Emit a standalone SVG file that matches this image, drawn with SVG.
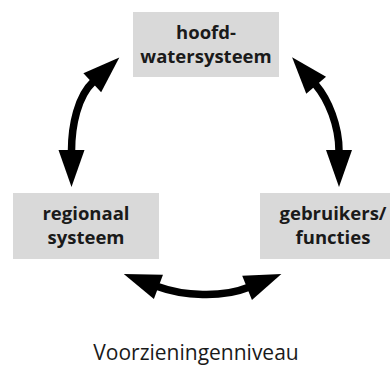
<svg xmlns="http://www.w3.org/2000/svg" width="390" height="366" viewBox="0 0 390 366">
<style>
.box{fill:#d9d9d9}
.lbl{font-family:"Open Sans","Noto Sans",sans-serif;font-weight:bold;font-size:18.5px;fill:#1a1a1a;text-anchor:middle}
.cap{font-family:"Open Sans","Noto Sans",sans-serif;font-size:21px;fill:#1a1a1a;text-anchor:middle}
.arr{fill:none;stroke:#000;stroke-width:7.5;marker-start:url(#ah);marker-end:url(#ah)}
</style>
<defs>
<marker id="ah" markerUnits="userSpaceOnUse" markerWidth="40" markerHeight="30" refX="0" refY="13" orient="auto-start-reverse" viewBox="0 0 40 30" overflow="visible">
<path d="M-1,0 L36,13 L-1,26 z" fill="#000"/>
</marker>
</defs>
<rect width="390" height="366" fill="#fff"/>
<g id="node-hoofdwatersysteem">
<rect class="box" x="133" y="12" width="146" height="65"/>
<text class="lbl" x="206" y="39">hoofd-</text>
<text class="lbl" x="206" y="63">watersysteem</text>
</g>
<g id="node-regionaal">
<rect class="box" x="13" y="193" width="146" height="66"/>
<text class="lbl" x="86" y="220">regionaal</text>
<text class="lbl" x="86" y="244">systeem</text>
</g>
<g id="node-gebruikers">
<rect class="box" x="260" y="193" width="146" height="66"/>
<text class="lbl" x="333" y="220">gebruikers/</text>
<text class="lbl" x="333" y="244">functies</text>
</g>
<g id="connectors">
<path class="arr" d="M93,82 C78,96 71.5,125 71.5,151"/>
<path class="arr" d="M315.5,84.5 C328.5,99.7 339,126 339,151"/>
<path class="arr" d="M157.5,286.5 C183,296 222,298 248,287.5"/>
</g>
<text class="cap" x="196" y="359.5">Voorzieningenniveau</text>
</svg>
